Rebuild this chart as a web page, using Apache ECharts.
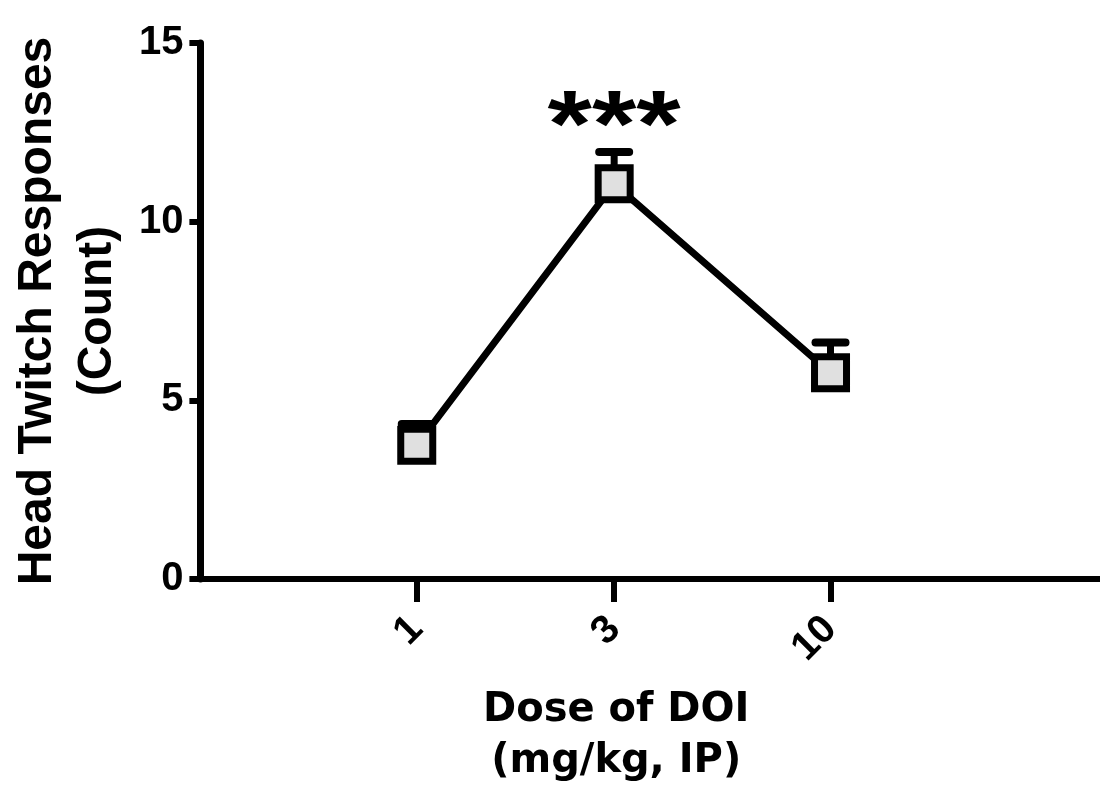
<!DOCTYPE html>
<html><head><meta charset="utf-8">
<script src="https://cdn.jsdelivr.net/npm/echarts@6/dist/echarts.min.js"></script>
<style>html,body{margin:0;padding:0;background:#fff}#c{width:1100px;height:794px}</style>
</head><body><div id="c"></div>
<script>
const doses = [1, 3, 10];
const means = [3.74, 11.06, 5.77];
const sems = [0.60, 0.89, 0.85];
const sigLabels = ['', '***', ''];
const xTickValues = [1, 3, 10];
const yMin = 0, yMax = 15, yInterval = 5;
const xTitle = 'Dose of DOI\n(mg/kg, IP)';
const yTitle = 'Head Twitch Responses\n(Count)';

const chart = echarts.init(document.getElementById('c'), null, {renderer: 'canvas'});
const pts = doses.map((d, i) => [d, means[i]]);
const errData = doses.map((d, i) => [d, means[i], means[i] + sems[i]]);

const option = {
  animation: false,
  backgroundColor: '#fff',
  grid: {left: 196, right: 0, top: 43, bottom: 215, containLabel: false},
  xAxis: {
    type: 'log', logBase: 10, min: 0.3, max: 44.8,
    name: xTitle, nameLocation: 'middle', nameGap: 106,
    nameTextStyle: {fontFamily: 'DejaVu Sans', fontWeight: 'bold', fontSize: 40, lineHeight: 51, color: '#000', padding: [0, 68, 0, 0]},
    axisLine: {show: true, lineStyle: {color: '#000', width: 6}},
    axisTick: {show: true, length: 23, lineStyle: {color: '#000', width: 6}, customValues: xTickValues},
    axisLabel: {show: true, rotate: 45, margin: 44, fontFamily: 'Liberation Sans', fontWeight: 'bold', fontSize: 40, color: '#000', customValues: xTickValues, formatter: v => String(v)},
    splitLine: {show: false}, minorTick: {show: false}, minorSplitLine: {show: false}
  },
  yAxis: {
    type: 'value', min: yMin, max: yMax, interval: yInterval,
    name: yTitle, nameLocation: 'middle', nameGap: 71,
    nameTextStyle: {fontFamily: 'Liberation Sans', fontWeight: 'bold', fontSize: 48, lineHeight: 60, color: '#000'},
    axisLine: {show: true, lineStyle: {color: '#000', width: 7}},
    axisTick: {show: true, length: 11, lineStyle: {color: '#000', width: 6}},
    axisLabel: {show: true, margin: 17, fontFamily: 'Liberation Sans', fontWeight: 'bold', fontSize: 40, color: '#000'},
    splitLine: {show: false}
  },
  series: [
    {
      type: 'custom', z: 1,
      data: errData,
      renderItem: function (params, api) {
        const x = api.value(0), lo = api.value(1), hi = api.value(2);
        const p0 = api.coord([x, lo]);
        const p1 = api.coord([x, hi]);
        const children = [
          {type: 'line', shape: {x1: p0[0], y1: p0[1], x2: p1[0], y2: p1[1]}, style: {stroke: '#000', lineWidth: 7}},
          {type: 'line', shape: {x1: p1[0] - 15, y1: p1[1], x2: p1[0] + 15, y2: p1[1]}, style: {stroke: '#000', lineWidth: 8, lineCap: 'round'}}
        ];
        const lab = sigLabels[params.dataIndex];
        if (lab) {
          children.push({type: 'text', x: p1[0], y: p1[1] + 25, scaleX: 1.2,
            style: {text: lab, fontSize: 95, fontWeight: 'bold', fontFamily: 'Liberation Sans', fill: '#000', align: 'center', verticalAlign: 'bottom'}});
        }
        return {type: 'group', children: children};
      }
    },
    {
      type: 'line', z: 3,
      data: pts,
      symbol: 'rect', symbolSize: 32,
      lineStyle: {color: '#000', width: 7},
      itemStyle: {color: '#e0e0e0', borderColor: '#000', borderWidth: 7},
      emphasis: {disabled: true}
    }
  ]
};
chart.setOption(option);
</script></body></html>
